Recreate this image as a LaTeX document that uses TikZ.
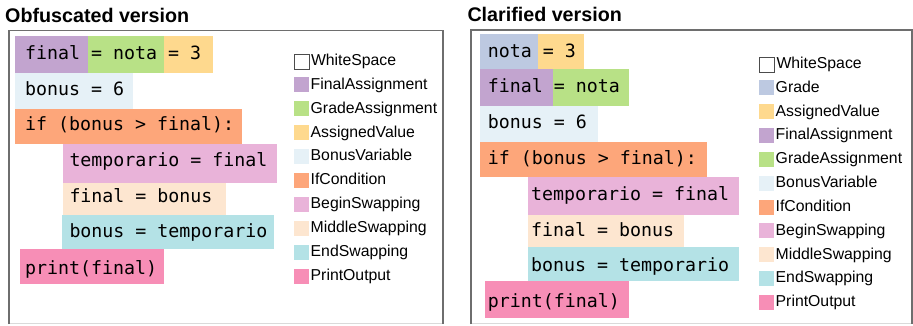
\documentclass[tikz,border=0pt]{standalone}
\usepackage{fontspec}
\setmainfont{Liberation Sans}
\newfontfamily\codefont{DejaVu Sans Mono}
\definecolor{cFinal}{HTML}{C2A4CF}
\definecolor{cGradeAsg}{HTML}{B8E186}
\definecolor{cValue}{HTML}{FED98E}
\definecolor{cBonus}{HTML}{E6F1F7}
\definecolor{cIf}{HTML}{FDA67A}
\definecolor{cBegin}{HTML}{E9B3D9}
\definecolor{cMiddle}{HTML}{FDE6D0}
\definecolor{cEnd}{HTML}{B4E2E6}
\definecolor{cPrint}{HTML}{F78EB6}
\definecolor{cGrade}{HTML}{BDC9E1}
\definecolor{frame}{HTML}{6E6E6E}
\definecolor{frameLow}{HTML}{DADADA}
\tikzset{
  code/.style={font=\codefont\fontsize{18.27}{20}\selectfont, anchor=base west, inner sep=0pt},
  legtext/.style={font=\fontsize{15.8}{18}\selectfont, anchor=base west, inner sep=0pt},
  paneltitle/.style={font=\bfseries\fontsize{19.7}{22}\selectfont, anchor=base west, inner sep=0pt},
  panel/.style={draw=frame, line width=1.3pt},
  panelbottom/.style={draw=frameLow, line width=1.1pt},
  emptyswatch/.style={draw=black!70, line width=1.3pt, fill=white}
}
% one legend row: #1 = x of swatch, #2 = baseline, #3 = colour, #4 = label, #5 = node name
\newcommand{\legrow}[5]{%
  \fill[#3] (#1,#2-11.8) rectangle (#1+15,#2+3.2);
  \node[legtext] (#5) at (#1+16.5,#2) {#4};
}
\begin{document}
\begin{tikzpicture}[x=1pt,y=-1pt]
\useasboundingbox (0,0) rectangle (913,325);
\fill[white] (0,0) rectangle (913,325);

% ---------------- Obfuscated version ----------------
\node[paneltitle] (tObf) at (5,22.3) {Obfuscated version};
\draw[panelbottom] (9,323.5) -- (443,323.5);
\draw[panel] (9,324.2) -- (9,30.5) -- (443,30.5) -- (443,324.2);

\fill[cFinal]    (15,36)    rectangle (87.7,72.7);
\fill[cGradeAsg] (87.7,36)  rectangle (163.7,72.7);
\fill[cValue]    (163.7,36) rectangle (212.7,72.7);
\fill[cBonus]    (15,72.7)  rectangle (132.7,108.7);
\fill[cIf]       (15,108.7) rectangle (241.7,144.3);
\fill[cBegin]    (62.7,144.3) rectangle (276.7,182.7);
\fill[cMiddle]   (62.7,182.7) rectangle (225.7,215);
\fill[cEnd]      (62,215)   rectangle (274,248.7);
\fill[cPrint]    (20,248.7) rectangle (163.7,284.3);

\node[code] (oA) at (25,59.3)   {final = nota = 3};
\node[code] (oB) at (25,95)     {bonus = 6};
\node[code] (oC) at (25,130.7)  {if (bonus > final):};
\node[code] (oD) at (69.3,166.7) {temporario = final};
\node[code] (oE) at (69.3,202.3) {final = bonus};
\node[code] (oF) at (69.3,237.7) {bonus = temporario};
\node[code] (oG) at (25,274.3)  {print(final)};

\draw[emptyswatch] (294.5,54.3) rectangle (309.5,69.3);
\node[legtext] (oL0) at (310.8,65.3) {WhiteSpace};
\legrow{294}{89.2}{cFinal}{FinalAssignment}{oL1}
\legrow{294}{113.1}{cGradeAsg}{GradeAssignment}{oL2}
\legrow{294}{137.0}{cValue}{AssignedValue}{oL3}
\legrow{294}{160.9}{cBonus}{BonusVariable}{oL4}
\legrow{294}{184.8}{cIf}{IfCondition}{oL5}
\legrow{294}{208.7}{cBegin}{BeginSwapping}{oL6}
\legrow{294}{232.6}{cMiddle}{MiddleSwapping}{oL7}
\legrow{294}{256.5}{cEnd}{EndSwapping}{oL8}
\legrow{294}{280.4}{cPrint}{PrintOutput}{oL9}

% ---------------- Clarified version ----------------
\node[paneltitle] (tCla) at (467.3,21.7) {Clarified version};
\draw[panelbottom] (471,323.5) -- (912,323.5);
\draw[panel] (471,324.2) -- (471,30) -- (912,30) -- (912,324.2);

\fill[cGrade]    (480,34)    rectangle (537.7,69);
\fill[cValue]    (537.7,34)  rectangle (584,69);
\fill[cFinal]    (480,69)    rectangle (553,105.7);
\fill[cGradeAsg] (553,69)    rectangle (629,105.7);
\fill[cBonus]    (480,105.7) rectangle (597.7,141.7);
\fill[cIf]       (480,141.7) rectangle (706.7,177.3);
\fill[cBegin]    (527.7,177.3) rectangle (738.7,215);
\fill[cMiddle]   (527.7,215) rectangle (683.7,247);
\fill[cEnd]      (527.7,247) rectangle (738.7,280.7);
\fill[cPrint]    (485,280.7) rectangle (629,317.7);

\node[code] (cA) at (487.7,57.3)  {nota = 3};
\node[code] (cB) at (487.7,92.3)  {final = nota};
\node[code] (cC) at (487.7,128.3) {bonus = 6};
\node[code] (cD) at (487.7,164.3) {if (bonus > final):};
\node[code] (cE) at (531,200)     {temporario = final};
\node[code] (cF) at (531,236)     {final = bonus};
\node[code] (cG) at (531,271.7)   {bonus = temporario};
\node[code] (cH) at (487.7,307.3) {print(final)};

\draw[emptyswatch] (759.5,57.3) rectangle (774.5,72.3);
\node[legtext] (cL0) at (776.3,68.3) {WhiteSpace};
\legrow{759}{92.15}{cGrade}{Grade}{cL1}
\legrow{759}{116.0}{cValue}{AssignedValue}{cL2}
\legrow{759}{139.85}{cFinal}{FinalAssignment}{cL3}
\legrow{759}{163.7}{cGradeAsg}{GradeAssignment}{cL4}
\legrow{759}{187.55}{cBonus}{BonusVariable}{cL5}
\legrow{759}{211.4}{cIf}{IfCondition}{cL6}
\legrow{759}{235.25}{cBegin}{BeginSwapping}{cL7}
\legrow{759}{259.1}{cMiddle}{MiddleSwapping}{cL8}
\legrow{759}{282.95}{cEnd}{EndSwapping}{cL9}
\legrow{759}{306.8}{cPrint}{PrintOutput}{cL10}
\end{tikzpicture}
\end{document}
